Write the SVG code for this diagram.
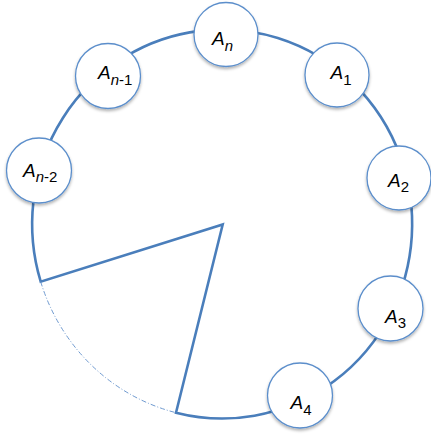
<svg xmlns="http://www.w3.org/2000/svg" width="431" height="437" viewBox="0 0 431 437">
<defs>
<filter id="sh" x="-30%" y="-30%" width="160%" height="170%">
<feDropShadow dx="0" dy="2" stdDeviation="1.5" flood-color="#000" flood-opacity="0.3"/>
</filter>
</defs>
<style>
.ring{fill:none;stroke:#4A7EBB;stroke-width:2.6;stroke-linejoin:miter}
.gap{fill:none;stroke:#6F9AD0;stroke-width:1;stroke-dasharray:5 2 1 2}
.node circle{fill:#fff;stroke:#5B8ECB;stroke-width:1.3;filter:url(#sh)}
.lbl{font-family:"Liberation Sans",Arial,sans-serif;font-size:19px;font-style:italic;fill:#000}
.sub{font-size:15px;font-style:normal}
.it{font-style:italic}
</style>
<rect width="431" height="437" fill="#fff"/>
<g id="connectors">
<path class="ring" d="M40.7,281.7 A190,194.5 0 1 1 176,412.7 L222.7,224.5 Z"/>
<path class="gap" d="M40.7,281.7 A190,194.5 0 0 0 176,412.7"/>
</g>
<g id="An" class="node"><circle cx="226" cy="34.5" r="32"/><text class="lbl" x="212" y="45">A<tspan class="sub it" dy="6">n</tspan></text></g>
<g id="A1" class="node"><circle cx="337" cy="75" r="32"/><text class="lbl" x="330.5" y="79">A<tspan class="sub" dy="6">1</tspan></text></g>
<g id="A2" class="node"><circle cx="399" cy="178" r="32"/><text class="lbl" x="388" y="186.5">A<tspan class="sub" dy="5">2</tspan></text></g>
<g id="A3" class="node"><circle cx="390.5" cy="308.5" r="32.5"/><text class="lbl" x="385" y="323">A<tspan class="sub" dy="5">3</tspan></text></g>
<g id="A4" class="node"><circle cx="300" cy="395.5" r="32.5"/><text class="lbl" x="290.5" y="409">A<tspan class="sub" dy="6">4</tspan></text></g>
<g id="An-1" class="node"><circle cx="108" cy="76" r="32.5"/><text class="lbl" x="98" y="79.3">A<tspan class="sub" dy="6"><tspan class="it">n</tspan>-1</tspan></text></g>
<g id="An-2" class="node"><circle cx="39" cy="170.5" r="32.5"/><text class="lbl" x="23" y="176.5">A<tspan class="sub" dy="5"><tspan class="it">n</tspan>-2</tspan></text></g>
</svg>
